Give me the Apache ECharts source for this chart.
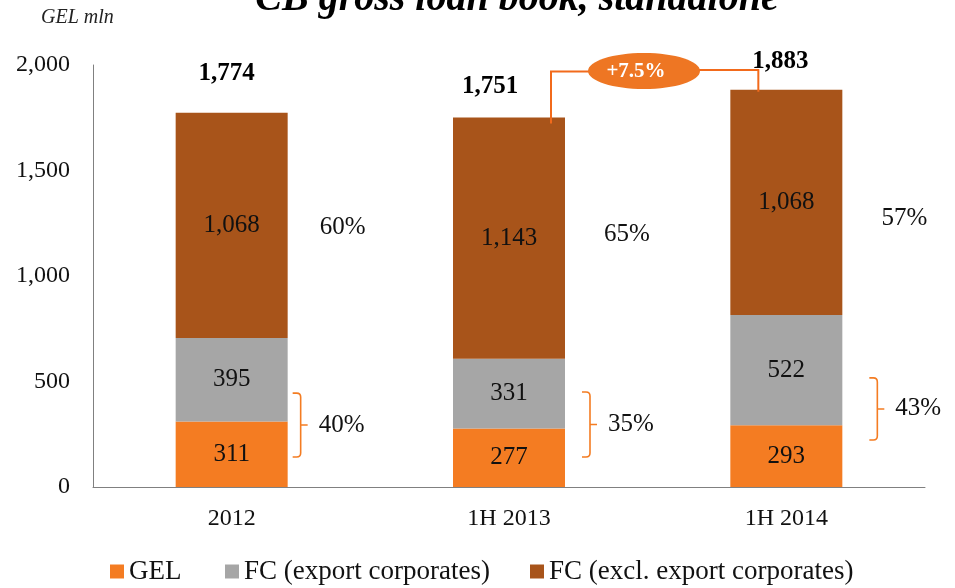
<!DOCTYPE html>
<html>
<head>
<meta charset="utf-8">
<script src="https://cdn.jsdelivr.net/npm/echarts@6/dist/echarts.min.js"></script>
<style>
  html, body { margin: 0; padding: 0; background: #fff; }
  #main { width: 955px; height: 588px; }
</style>
</head>
<body>
<div id="main"></div>
<script>
// data
var categories = ['2012', '1H 2013', '1H 2014']
var gel = [311, 277, 293]
var fcExport = [395, 331, 522]
var fcOther = [1068, 1143, 1068]
var totals = [1774, 1751, 1883]
var fcOtherShare = ['60%', '65%', '57%']
var gelExportShare = ['40%', '35%', '43%']
var growthText = '+7.5%'

var FONT = '"Liberation Serif", "Times New Roman", serif'
var ORANGE = '#F47C22'
var GRAY = '#A6A6A6'
var BROWN = '#A8541A'
var LINE = '#F26A1B'

// pixel nudges for the annotations (one per category)
var totalOffX = [-5, -19, -6], totalOffY = [-39, -31, -28]
var shareOffX = [111, 118, 118], shareOffY = [2, -4, 16]
var bracketX = [69, 81, 91]
var bracketRange = [[142, 445], [142, 450], [223, 517]]

var chart = echarts.init(document.getElementById('main'))

function fmt(v) {
    return v.toString().replace(/\B(?=(\d{3})+(?!\d))/g, ',')
}

function barSeries(name, data, color) {
    return {
        name: name,
        type: 'bar',
        stack: 'loans',
        data: data,
        barWidth: 112,
        itemStyle: { color: color },
        label: {
            show: true,
            position: 'inside',
            formatter: (p) => fmt(p.value),
            fontFamily: FONT,
            fontSize: 25,
            color: '#111'
        }
    }
}

// totals, shares, brackets per category
function renderNotes(params, api) {
    var i = api.value(0)
    var top = api.coord([i, api.value(1)])
    var cx = top[0]
    var segTop = api.coord([i, totals[i]])[1]
    var segBot = api.coord([i, gel[i] + fcExport[i]])[1]
    var by0 = api.coord([i, bracketRange[i][1]])[1]
    var by1 = api.coord([i, bracketRange[i][0]])[1]
    var bx = cx + bracketX[i]
    var bm = (by0 + by1) / 2
    var r = 4
    var path = 'M' + (bx - 8) + ' ' + by0 + ' L' + (bx - r) + ' ' + by0 +
        ' Q' + bx + ' ' + by0 + ' ' + bx + ' ' + (by0 + r) +
        ' L' + bx + ' ' + (by1 - r) +
        ' Q' + bx + ' ' + by1 + ' ' + (bx - r) + ' ' + by1 +
        ' L' + (bx - 8) + ' ' + by1 +
        ' M' + bx + ' ' + bm + ' L' + (bx + 7) + ' ' + bm
    return {
        type: 'group',
        children: [
            {
                type: 'text',
                x: cx + totalOffX[i], y: top[1] + totalOffY[i],
                style: { text: fmt(totals[i]), font: 'bold 25px ' + FONT, fill: '#000', align: 'center', verticalAlign: 'middle' }
            },
            {
                type: 'text',
                x: cx + shareOffX[i], y: (segTop + segBot) / 2 + shareOffY[i],
                style: { text: fcOtherShare[i], font: '25px ' + FONT, fill: '#111', align: 'center', verticalAlign: 'middle' }
            },
            {
                type: 'path',
                shape: { pathData: path },
                style: { stroke: ORANGE, lineWidth: 1.6, fill: null }
            },
            {
                type: 'text',
                x: bx + 18, y: bm,
                style: { text: gelExportShare[i], font: '25px ' + FONT, fill: '#111', align: 'left', verticalAlign: 'middle' }
            }
        ]
    }
}

// growth connector between 1H 2013 and 1H 2014
function renderGrowth(params, api) {
    if (params.dataIndex !== 0) return
    var a = api.coord([1, totals[1]])
    var b = api.coord([2, totals[2]])
    var ax = a[0] + 42, ay = a[1] + 6
    var bx = b[0] - 28, byy = b[1] + 2
    var ex = 644, ey = 71
    var rx = 56, ry = 18
    return {
        type: 'group',
        children: [
            {
                type: 'polyline',
                shape: { points: [[ax, ay], [ax, 71.5], [ex - rx + 2, 71.5]] },
                style: { stroke: LINE, lineWidth: 2, fill: null }
            },
            {
                type: 'polyline',
                shape: { points: [[ex + rx - 2, 70], [bx, 70], [bx, byy]] },
                style: { stroke: LINE, lineWidth: 2, fill: null }
            },
            {
                type: 'ellipse',
                shape: { cx: ex, cy: ey, rx: rx, ry: ry },
                style: { fill: '#EE7623' }
            },
            {
                type: 'text',
                x: ex - 8, y: ey + 1,
                style: { text: growthText, font: 'bold 21px ' + FONT, fill: '#fff', align: 'center', verticalAlign: 'middle' }
            }
        ]
    }
}

function legendAt(name, left) {
    return {
        data: [name],
        left: left,
        top: 558,
        padding: 0,
        itemWidth: 14,
        itemHeight: 14,
        icon: 'rect',
        selectedMode: false,
        textStyle: { fontFamily: FONT, fontSize: 27, color: '#111' }
    }
}

var option = {
    backgroundColor: '#fff',
    animation: false,
    graphic: [
        {
            type: 'text', x: 517, y: 0,
            style: { text: 'CB gross loan book, standalone', font: 'italic bold 40px ' + FONT, fill: '#000', align: 'center', verticalAlign: 'middle' }
        },
        {
            type: 'text', x: 41, y: 18,
            style: { text: 'GEL mln', font: 'italic 20px ' + FONT, fill: '#222', align: 'left', verticalAlign: 'middle' }
        }
    ],
    legend: [
        legendAt('GEL', 110),
        legendAt('FC (export corporates)', 225),
        legendAt('FC (excl. export corporates)', 530)
    ],
    grid: { left: 93, right: 30, top: 65, bottom: 101 },
    xAxis: {
        type: 'category',
        data: categories,
        axisLine: { lineStyle: { color: '#808080', width: 1 } },
        axisTick: { show: false },
        axisLabel: { fontFamily: FONT, fontSize: 24, color: '#111', margin: 20 }
    },
    yAxis: {
        type: 'value',
        min: 0,
        max: 2000,
        interval: 500,
        axisLine: { show: true, lineStyle: { color: '#808080', width: 1 } },
        axisTick: { show: false },
        splitLine: { show: false },
        axisLabel: { fontFamily: FONT, fontSize: 24, color: '#111', margin: 23, formatter: (v) => fmt(v) }
    },
    series: [
        barSeries('GEL', gel, ORANGE),
        barSeries('FC (export corporates)', fcExport, GRAY),
        barSeries('FC (excl. export corporates)', fcOther, BROWN),
        {
            type: 'custom',
            renderItem: renderNotes,
            data: categories.map((c, i) => [i, totals[i]]),
            z: 5
        },
        {
            type: 'custom',
            renderItem: renderGrowth,
            data: [[1, totals[1]]],
            z: 6
        }
    ]
}

chart.setOption(option)
</script>
</body>
</html>
